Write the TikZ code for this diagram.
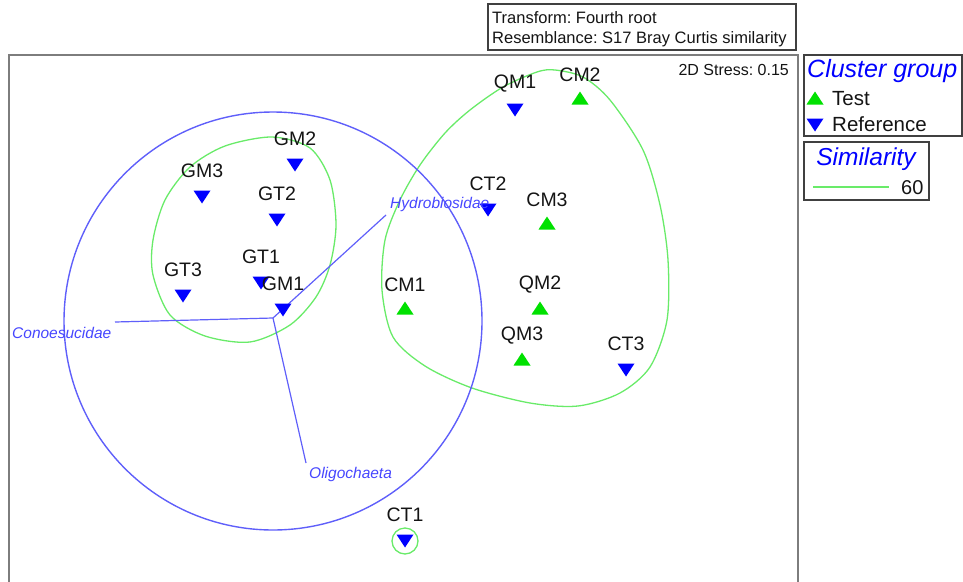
\documentclass[tikz,border=0pt]{standalone}
\usepackage{fontspec}
\setmainfont{Liberation Sans}
\frenchspacing
\usetikzlibrary{calc}
\definecolor{refblue}{RGB}{0,0,255}
\definecolor{testgreen}{RGB}{0,225,0}
\definecolor{circblue}{RGB}{95,95,250}
\definecolor{clgreen}{RGB}{105,235,105}
\definecolor{vectext}{RGB}{70,70,255}
\definecolor{labgray}{RGB}{20,20,20}
\definecolor{framegray}{RGB}{125,125,125}

\tikzset{
  reftri/.pic={\fill[refblue] (-8.5,-6.5) -- (8.5,-6.5) -- (0,6.5) -- cycle;},
  testtri/.pic={\fill[testgreen] (-8.5,6.5) -- (8.5,6.5) -- (0,-6.5) -- cycle;},
  lab/.style={inner sep=0pt, text=labgray, font=\fontsize{19.5}{21}\selectfont},
  vecname/.style={inner sep=0pt, anchor=base west, text=vectext, font=\fontsize{15.5}{17}\selectfont\itshape},
  vec/.style={draw=circblue, line width=1.2pt},
  boxline/.style={draw=black!75, line width=1.3pt},
  small/.style={inner sep=0pt, text=labgray, font=\fontsize{16.5}{18}\selectfont}
}

\begin{document}
\begin{tikzpicture}[x=1pt, y=-1pt]
\useasboundingbox (0,0) rectangle (963,581);

% plot frame and header box
\draw[draw=framegray, line width=2pt] (9,582) -- (9,55) -- (798,55) -- (798,582);
\draw[boxline] (488,4) rectangle (796,50);
\node[small, anchor=base west] (tf) at (492,23) {Transform: Fourth root};
\node[small, anchor=base west] (rs) at (492,43) {Resemblance: S17 Bray Curtis similarity};
\node[small, anchor=base east, font=\fontsize{16}{18}\selectfont] (stress) at (789,75.5) {2D Stress: 0.15};

% similarity clusters
\draw[clgreen, line width=1.3pt] plot[smooth cycle] coordinates {(272,137) (310,148) (330,180) (336,225) (330,265) (316,297) (290,325) (250,342) (205,336) (170,315) (153,275) (153,240) (165,200) (190,167) (225,146)};
\draw[clgreen, line width=1.3pt] plot[smooth cycle] coordinates {(470,110) (503,87) (537,72) (555,70) (583,77) (610,100) (643,150) (660,205) (668,260) (667,320) (650,367) (620,393) (578,406) (530,403) (472,388) (425,366) (393,337) (382,290) (385,240) (400,200) (420,165) (445,133)};
\draw[clgreen, line width=1.3pt] (405,541) circle[radius=13];

% vectors
\coordinate (vo) at (273,318);
\coordinate (vcon) at (115,322);
\coordinate (vhyd) at (386,215);
\coordinate (voli) at (306,463);
\draw[circblue, line width=1.4pt] ($(vo)+(0,3)$) circle[radius=209];
\draw[vec] (vo) -- (vcon);
\draw[vec] (vo) -- (vhyd);
\draw[vec] (vo) -- (voli);

% samples
\foreach \nm/\x/\y in {QM1/515/110, GM2/295/165, GM3/202/197, GT2/277/220, CT2/488/210, GT3/183/296, GT1/261/283, GM1/283/310, CT3/626/370, CT1/405/541}{
  \pic at (\x,\y) {reftri};
}
\foreach \nm/\x/\y in {CM2/580/98, CM3/547/223, CM1/405/308, QM2/540/308, QM3/522/359}{
  \pic at (\x,\y) {testtri};
}
\foreach \nm/\x/\y in {QM1/515/110, GM2/295/165, GM3/202/197, GT2/277/220, CT2/488/210, GT3/183/296, GT1/261/283, GM1/283/310, CT3/626/370, CT1/405/541}{
  \node[lab] (\nm) at (\x,\y-26) {\nm};
}
\foreach \nm/\x/\y in {CM2/580/98, CM3/547/223, CM1/405/308, QM2/540/308, QM3/522/359}{
  \node[lab] (\nm) at (\x,\y-23) {\nm};
}

\node[vecname] (ncon) at (12,338.5) {Conoesucidae};
\node[vecname] (nhyd) at (390,208.5) {Hydrobiosidae};
\node[vecname] (noli) at (309,478.5) {Oligochaeta};

% legends
\draw[boxline] (804,55) rectangle (962,136);
\node[inner sep=0pt, anchor=base west, text=refblue, font=\fontsize{25}{27}\selectfont\itshape] (cg) at (807,77) {Cluster group};
\pic at (815,98) {testtri};
\pic at (815,125) {reftri};
\node[lab, anchor=base west, font=\fontsize{20.5}{22}\selectfont] (ltest) at (832,105) {Test};
\node[lab, anchor=base west, font=\fontsize{20.5}{22}\selectfont] (lref) at (832,131) {Reference};

\draw[boxline] (804,142) rectangle (929,200);
\node[inner sep=0pt, anchor=base, text=refblue, font=\fontsize{24.5}{26}\selectfont\itshape] (sim) at (866,165) {Similarity};
\coordinate (sa) at (813,187);
\coordinate (sb) at (889,187);
\draw[clgreen, line width=1.3pt] (sa) -- (sb);
\node[lab, anchor=base west, font=\fontsize{20}{22}\selectfont] (s60) at (901,194) {60};
\end{tikzpicture}
\end{document}
